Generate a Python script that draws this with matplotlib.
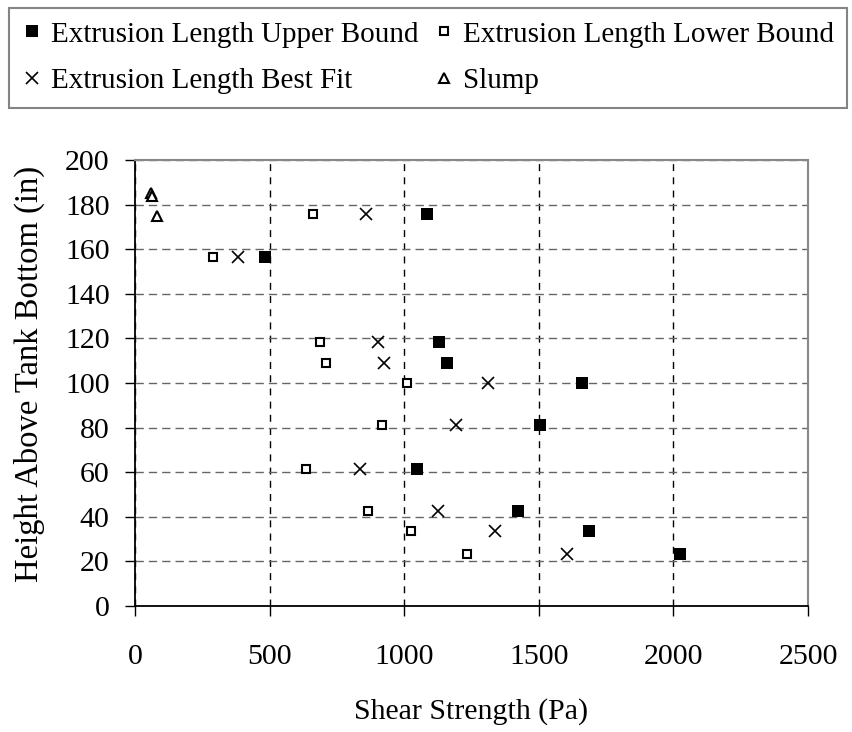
import matplotlib.pyplot as plt

plt.rcParams['font.family'] = ['Liberation Serif', 'DejaVu Serif']

# heights (in) of the sample points
heights = [176, 156.5, 118.5, 109, 100, 81, 61.5, 42.5, 33.5, 23.5]
# shear strength (Pa)
upper = [1084, 484, 1131, 1160, 1662, 1504, 1047, 1421, 1685, 2025]
lower = [662, 290, 687, 710, 1009, 919, 634, 866, 1025, 1235]
best = [858, 383, 902, 925, 1312, 1194, 834, 1125, 1337, 1606]
slump_x = [60, 64, 80]
slump_y = [185, 184, 175]

fig = plt.figure(figsize=(8.52, 7.32), dpi=100)
ax = fig.add_axes([135 / 852, 0.1721, 673 / 852, 0.6093])

h_up, = ax.plot(upper, heights, 's', color='black', mew=0, ms=8.2, label='Extrusion Length Upper Bound')
h_lo, = ax.plot(lower, heights, 's', mfc='white', mec='black', mew=1.5, ms=6.3,
                label='Extrusion Length Lower Bound')
h_bf, = ax.plot(best, heights, 'x', color='black', ms=9, mew=1.2, label='Extrusion Length Best Fit')
h_sl, = ax.plot(slump_x, slump_y, '^', mfc='white', mec='black', mew=1.5, ms=7.5, label='Slump')

ax.set_xlim(0, 2500)
ax.set_ylim(0, 200)
ax.set_xticks(range(0, 2501, 500))
ax.set_yticks(range(0, 201, 20))
ax.tick_params(direction='out', length=7.2, width=1, labelsize=21.5)
ax.tick_params(axis='x', pad=20)
ax.tick_params(axis='y', pad=11)
# vertical grid darker, horizontal grid grey
ax.xaxis.grid(True, linestyle=(0, (5, 4.5)), color='black', linewidth=1)
ax.yaxis.grid(True, linestyle=(0, (6, 3.6)), color='#666666', linewidth=1)
ax.set_axisbelow(True)
for s in ['top', 'right']:
    ax.spines[s].set_color('#888888')
    ax.spines[s].set_linewidth(1.5)
for s in ['left', 'bottom']:
    ax.spines[s].set_linewidth(1.3)

ax.set_xlabel('Shear Strength (Pa)', fontsize=21.5, labelpad=20)
ax.set_ylabel('Height Above Tank Bottom (in)', fontsize=23.5)
ax.yaxis.set_label_coords(-0.133, 0.52)

# column-wise fill -> rows: upper/lower, best fit/slump
leg = fig.legend([h_up, h_bf, h_lo, h_sl],
                 [h.get_label() for h in [h_up, h_bf, h_lo, h_sl]],
                 loc='upper left', bbox_to_anchor=(9 / 852, 1 - 107 / 732, 838 / 852, 99 / 732),
                 mode='expand', ncol=2, fontsize=21, frameon=True, fancybox=False,
                 edgecolor='#666666', markerscale=1.0, handlelength=0.7, handletextpad=0.3,
                 borderaxespad=0, borderpad=0.45, labelspacing=0.7)
leg.get_frame().set_linewidth(1.5)

fig.savefig('out.png', dpi=100)
